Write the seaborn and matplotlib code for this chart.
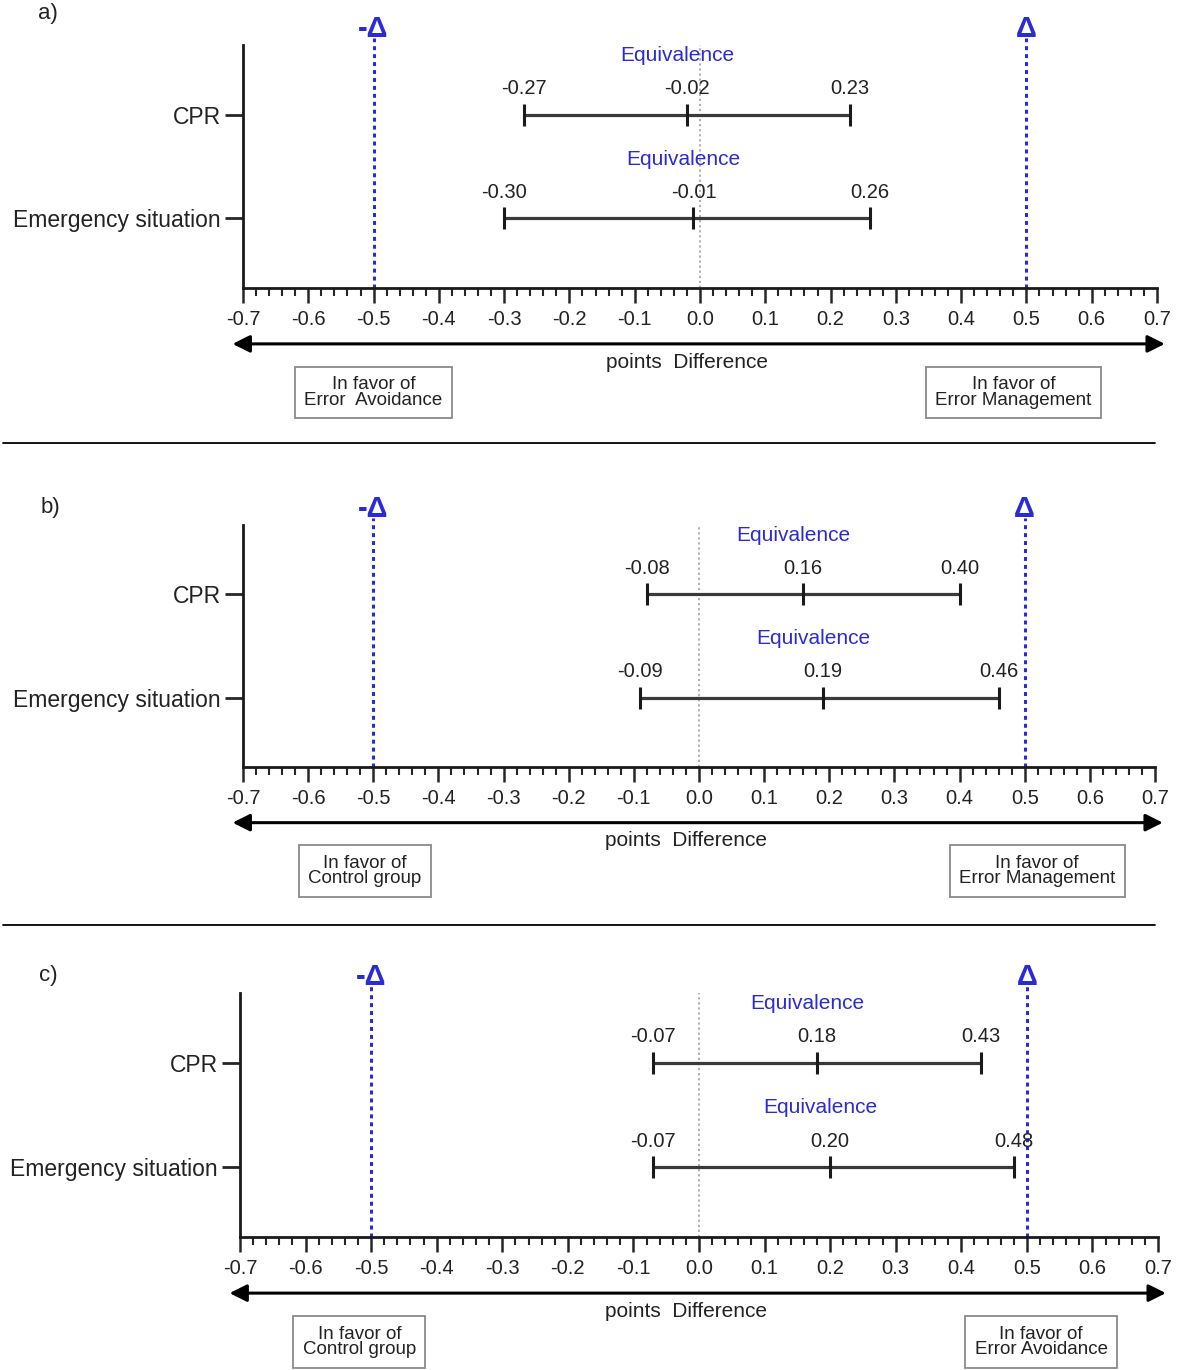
import matplotlib
matplotlib.use('Agg')
import matplotlib.pyplot as plt
import matplotlib.transforms as mtransforms
from matplotlib.lines import Line2D
from matplotlib.ticker import MultipleLocator, FormatStrFormatter
import seaborn as sns
import pandas as pd
import numpy as np

# Outcomes (rows of each panel)
outcomes = ['CPR', 'Emergency situation']

# a) Error Avoidance vs Error Management
a_lower = [-0.27, -0.30]
a_mean = [-0.02, -0.01]
a_upper = [0.23, 0.26]

# b) Control group vs Error Management
b_lower = [-0.08, -0.09]
b_mean = [0.16, 0.19]
b_upper = [0.40, 0.46]

# c) Control group vs Error Avoidance
c_lower = [-0.07, -0.07]
c_mean = [0.18, 0.20]
c_upper = [0.43, 0.48]

delta = 0.5
panel_labels = ['a)', 'b)', 'c)']
left_groups = ['In favor of\nError  Avoidance', 'In favor of\nControl group', 'In favor of\nControl group']
right_groups = ['In favor of\nError Management', 'In favor of\nError Management', 'In favor of\nError Avoidance']
verdict = 'Equivalence'
xlabel = 'points  Difference'

sns.set_style('white')
plt.rcParams['font.family'] = ['Liberation Sans', 'DejaVu Sans']
plt.rcParams['axes.unicode_minus'] = False

BLUE = '#2a2ad6'
LINE = '#3a3a3a'

fig = plt.figure(figsize=(11.8, 13.7), dpi=100)
W, H = 1180, 1370


def px_axes(left, right, top, bottom):
    return fig.add_axes([left / W, 1 - bottom / H, (right - left) / W, (bottom - top) / H])


def draw_panel(ax, lower, mean, upper, left_txt, right_txt, box_x):
    df = pd.DataFrame({'outcome': outcomes, 'lower': lower, 'mean': mean, 'upper': upper})
    df['pos'] = np.arange(len(df))
    long = df.melt(id_vars=['outcome', 'pos'], value_vars=['lower', 'mean', 'upper'],
                   var_name='stat', value_name='diff')

    # reference lines
    ax.axvline(0, color='#a8a8a8', ls=(0, (1.2, 1.6)), lw=1.3, zorder=1)
    for x in (-delta, delta):
        ax.axvline(x, ymin=0, ymax=1.03, color=BLUE, ls=(0, (1.3, 1.3)), lw=2.2,
                   clip_on=False, zorder=1)

    # confidence intervals
    sns.lineplot(data=long[long['stat'] != 'mean'], x='diff', y='pos', units='outcome',
                 estimator=None, color=LINE, lw=2.3, ax=ax, zorder=3)
    sns.scatterplot(data=long, x='diff', y='pos', marker='|', s=230, linewidth=2.2,
                    color='#1a1a1a', ax=ax, zorder=4)

    for _, r in long.iterrows():
        ax.text(r['diff'], r['pos'] - 0.25, f"{r['diff']:.2f}", ha='center', va='center',
                fontsize=14.5, color='#222222')
    for _, r in df.iterrows():
        ax.text(r['mean'] - 0.015, r['pos'] - 0.57, verdict, ha='center', va='center',
                fontsize=15, color=BLUE)

    ax.set_xlim(-0.7, 0.7)
    ax.set_ylim(1.67, -0.67)
    ax.set_yticks(df['pos'])
    ax.set_yticklabels(outcomes, fontsize=16.5, color='#222222')
    ax.xaxis.set_major_locator(MultipleLocator(0.1))
    ax.xaxis.set_minor_locator(MultipleLocator(0.02))
    ax.xaxis.set_major_formatter(FormatStrFormatter('%.1f'))
    ax.tick_params(axis='x', which='major', length=11, width=1.8, pad=5,
                   labelsize=14.5, labelcolor='#222222', direction='out', bottom=True)
    ax.tick_params(axis='x', which='minor', length=6, width=1.5, direction='out', bottom=True)
    ax.tick_params(axis='y', length=13, width=2, pad=3, direction='out', left=True)
    ax.set_xlabel('')
    ax.set_ylabel('')
    sns.despine(ax=ax)
    for s in ('left', 'bottom'):
        ax.spines[s].set_linewidth(2)
        ax.spines[s].set_color('#1a1a1a')

    trans = mtransforms.blended_transform_factory(ax.transData, ax.transAxes)
    ax.text(-delta, 1.065, '-Δ', transform=trans, ha='center', va='center',
            fontsize=21, fontweight='bold', color=BLUE)
    ax.text(delta, 1.065, 'Δ', transform=trans, ha='center', va='center',
            fontsize=21, fontweight='bold', color=BLUE)

    ax.annotate('', xy=(0.712, -0.23), xytext=(-0.716, -0.23), xycoords=trans,
                arrowprops=dict(arrowstyle='<|-|>', color='black', lw=2.2, mutation_scale=26,
                                shrinkA=0, shrinkB=0), annotation_clip=False)
    ax.text(-0.02, -0.305, xlabel, transform=trans, ha='center', va='center',
            fontsize=15, color='#222222')
    box = dict(boxstyle='square,pad=0.5', fc='white', ec='#8a8a8a', lw=1.3)
    ax.text(box_x[0], -0.43, left_txt, transform=trans, ha='center', va='center',
            fontsize=13.5, linespacing=0.9, color='#222222', bbox=box)
    ax.text(box_x[1], -0.43, right_txt, transform=trans, ha='center', va='center',
            fontsize=13.5, linespacing=0.9, color='#222222', bbox=box)


ax_a = px_axes(243, 1157, 45, 288)
ax_b = px_axes(243, 1155, 525, 767)
ax_c = px_axes(240, 1158, 993, 1237)

draw_panel(ax_a, a_lower, a_mean, a_upper, left_groups[0], right_groups[0], (-0.5, 0.48))
draw_panel(ax_b, b_lower, b_mean, b_upper, left_groups[1], right_groups[1], (-0.513, 0.519))
draw_panel(ax_c, c_lower, c_mean, c_upper, left_groups[2], right_groups[2], (-0.518, 0.522))

for lab, (x, y) in zip(panel_labels, [(48, 14), (50, 508), (48, 976)]):
    fig.text(x / W, 1 - y / H, lab, ha='center', va='center', fontsize=16, color='#222222')

for y in (443, 925):
    fig.add_artist(Line2D([3 / W, 1155 / W], [1 - y / H] * 2, color='black', lw=1.3))

fig.savefig('out.png', dpi=100)
